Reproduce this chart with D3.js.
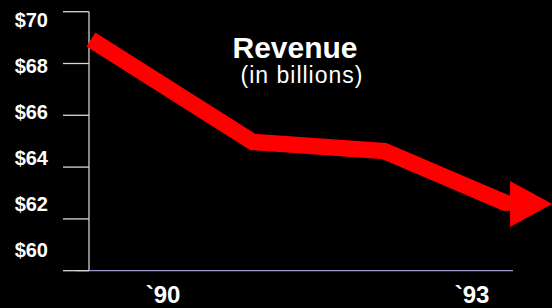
<!DOCTYPE html>
<html>
<head>
<meta charset="utf-8">
<script src="https://cdn.jsdelivr.net/npm/d3@7"></script>
<style>
  html, body { margin: 0; padding: 0; background: #000; }
  svg { display: block; }
</style>
</head>
<body>
<svg id="chart" width="552" height="308"></svg>
<script>
// ---- data ----
const yTicks = [60, 62, 64, 66, 68, 70];
const yTickLabels = ["$60", "$62", "$64", "$66", "$68", "$70"];
const xTicks = [1990, 1993];
const xTickLabels = ["`90", "`93"];
const years = [1989.30, 1990.87, 1992.15, 1993.35];
const revenue = [68.93, 64.97, 64.62, 62.58];
const title = "Revenue";
const subtitle = "(in billions)";

// ---- layout ----
const W = 552, H = 308;
const svg = d3.select("#chart");
svg.append("rect").attr("width", W).attr("height", H).attr("fill", "#000");

const x = d3.scaleLinear().domain([1990, 1993]).range([163, 472]);
const y = d3.scaleLinear().domain([60, 70]).range([270.7, 11.7]);
const yLab = d3.scaleLinear().domain([60, 70]).range([256.7, 26.7]);
const axisX = 89;

// x axis baseline (lavender)
svg.append("line")
  .attr("x1", 76).attr("x2", 513)
  .attr("y1", y(60)).attr("y2", y(60))
  .attr("stroke", "#9a9ac8").attr("stroke-width", 1.3);

// y axis line and ticks
svg.append("line")
  .attr("x1", axisX).attr("x2", axisX)
  .attr("y1", y(70)).attr("y2", y(60))
  .attr("stroke", "#d0d0d0").attr("stroke-width", 1.3);
svg.selectAll(".ytick").data(yTicks).join("line")
  .attr("class", "ytick")
  .attr("x1", 63).attr("x2", axisX)
  .attr("y1", d => y(d)).attr("y2", d => y(d))
  .attr("stroke", "#d8d8d8").attr("stroke-width", 1.3);

// y labels
svg.selectAll(".ylab").data(yTicks).join("text")
  .attr("class", "ylab")
  .attr("x", 48).attr("y", d => yLab(d))
  .attr("text-anchor", "end")
  .attr("font-family", "Liberation Sans, Arial, sans-serif")
  .attr("font-weight", "bold").attr("font-size", 20)
  .attr("fill", "#fff")
  .text((d, i) => yTickLabels[i]);

// x labels
svg.selectAll(".xlab").data(xTicks).join("text")
  .attr("class", "xlab")
  .attr("x", d => x(d)).attr("y", 303.3)
  .attr("text-anchor", "middle")
  .attr("font-family", "Liberation Sans, Arial, sans-serif")
  .attr("font-weight", "bold").attr("font-size", 24)
  .attr("fill", "#fff")
  .text((d, i) => xTickLabels[i]);

// title
svg.append("text")
  .attr("x", 295).attr("y", 58.3)
  .attr("text-anchor", "middle")
  .attr("font-family", "Liberation Sans, Arial, sans-serif")
  .attr("font-weight", "bold").attr("font-size", 30)
  .attr("fill", "#fff")
  .text(title);
svg.append("text")
  .attr("x", 302).attr("y", 82.7)
  .attr("text-anchor", "middle")
  .attr("font-family", "Liberation Sans, Arial, sans-serif")
  .attr("font-size", 23)
  .attr("letter-spacing", 1)
  .attr("fill", "#fff")
  .text(subtitle);

// red line
const pts = years.map((yr, i) => [x(yr), y(revenue[i])]);
const line = d3.line();
svg.append("path")
  .attr("d", line(pts))
  .attr("fill", "none")
  .attr("stroke", "#ff0000")
  .attr("stroke-width", 16.5)
  .attr("stroke-linejoin", "miter")
  .attr("stroke-linecap", "butt");

// arrow head (horizontal)
const last = pts[pts.length - 1];
const headHalf = 23, headLen = 42, headBase = 2;
const bx = last[0] + headBase, by = last[1];
svg.append("path")
  .attr("d", `M${bx},${by - headHalf} L${bx + headLen},${by} L${bx},${by + headHalf} Z`)
  .attr("fill", "#ff0000");
// small flat connector
svg.append("line")
  .attr("x1", last[0] - 3).attr("x2", bx + 1)
  .attr("y1", by).attr("y2", by)
  .attr("stroke", "#ff0000").attr("stroke-width", 14);
</script>
</body>
</html>
